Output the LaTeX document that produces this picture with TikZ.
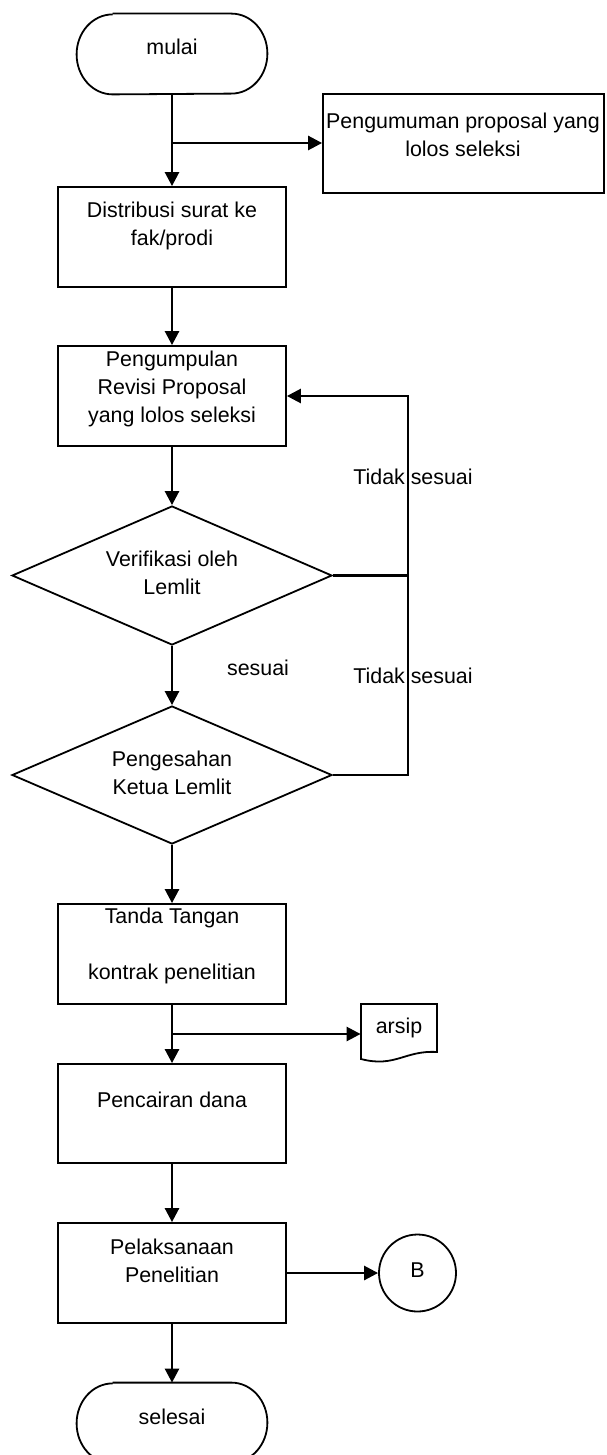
\documentclass[tikz,border=0pt]{standalone}
\usepackage{fontspec}
\setmainfont{Liberation Sans}
\usetikzlibrary{shapes.geometric}
\usetikzlibrary{arrows.meta}

\tikzset{
  terminal/.style={rectangle,inner sep=0pt,minimum width=95pt,minimum height=40pt},
  proses/.style={draw,rectangle,inner sep=0pt,minimum width=114pt,minimum height=50pt,line width=0.9pt},
  keputusan/.style={draw,diamond,inner sep=0pt,minimum width=160pt,minimum height=69.5pt,line width=0.9pt},
  konektor/.style={draw,circle,inner sep=0pt,minimum size=38.5pt,line width=0.9pt},
  teks/.style={align=center,inner sep=0pt},
  alur/.style={->,line width=1.3pt},
  garis/.style={line width=1.3pt}
}
% terminal dengan ujung bulat (elips)
\newcommand{\ujung}[1]{%
  \draw[line width=0.9pt] ([xshift=18pt]#1.north west) -- ([xshift=-18pt]#1.north east)
    arc[start angle=90,end angle=-90,x radius=18pt,y radius=20pt]
    -- ([xshift=18pt]#1.south west)
    arc[start angle=270,end angle=90,x radius=18pt,y radius=20pt];}

\begin{document}
\begin{tikzpicture}[x=0.5pt,y=-0.5pt,>={Triangle[length=7pt,width=7pt]},
  every node/.style={font=\fontsize{10.7pt}{14pt}\selectfont}]
\useasboundingbox (0,0) rectangle (606,1455);

% bentuk
\node[terminal] (mulai) at (172,54) {};
\node[proses,minimum width=140.5pt,minimum height=49.5pt] (umum) at (463.5,143.5) {};
\node[proses] (distribusi) at (172,237) {};
\node[proses] (kumpul) at (172,396) {};
\node[keputusan] (verifikasi) at (172,575.5) {};
\node[keputusan,minimum height=69pt] (sah) at (172,775) {};
\node[proses] (ttd) at (172,954) {};
\node[proses,minimum height=49.5pt] (cair) at (172,1113.5) {};
\node[proses] (laks) at (172,1273) {};
\node[konektor] (B) at (417.5,1273) {\raisebox{3pt}{B}};
\node[terminal] (selesai) at (172,1423) {};
\ujung{mulai}
\ujung{selesai}

% dokumen arsip
\draw[line width=0.9pt] (361,1004) -- (437,1004) -- (437,1052)
      .. controls (405,1050) and (395,1068) .. (361,1059) -- cycle;
\node[teks,minimum width=38pt] (arsip) at (399,1028) {arsip};

% teks
\node[teks] (mulai-t) at (172,47) {mulai};
\node[teks] (umum-t) at (463,135) {Pengumuman proposal yang\\lolos seleksi};
\node[teks] (distribusi-t) at (172,225.5) {Distribusi surat ke\\fak/prodi};
\node[teks] (kumpul-t) at (172,389) {Pengumpulan\\Revisi Proposal\\yang lolos seleksi};
\node[teks] (verifikasi-t) at (172,573) {Verifikasi oleh\\Lemlit};
\node[teks] (sah-t) at (172,773) {Pengesahan\\Ketua Lemlit};
\node[teks] (ttd-t) at (172,945.5) {Tanda Tangan\\[14pt]kontrak penelitian};
\node[teks] (cair-t) at (172,1100) {Pencairan dana};
\node[teks] (laks-t) at (172,1261) {Pelaksanaan\\Penelitian};
\node[teks] (selesai-t) at (172,1417) {selesai};
\node[teks] (sesuai) at (258,668) {sesuai};
\node[teks] (tidak1) at (413,477) {Tidak sesuai};
\node[teks] (tidak2) at (413,676) {Tidak sesuai};

% alur
\coordinate (cabang1) at (172,143);
\coordinate (cabang2) at (172,1034);
\coordinate (balik) at (408,396);
\draw[garis] (mulai) -- (cabang1);
\draw[alur] (cabang1) -- (distribusi);
\draw[alur] (cabang1) -- (cabang1 -| umum.west);
\draw[alur] (distribusi) -- (kumpul);
\draw[alur] (kumpul) -- (verifikasi);
\draw[alur] (verifikasi) -- (sah);
\draw[alur] (sah) -- (ttd);
\draw[garis] (ttd) -- (cabang2);
\draw[alur] (cabang2) -- (cair);
\draw[alur] (cabang2) -- (cabang2 -| arsip.west);
\draw[alur] (cair) -- (laks);
\draw[alur] (laks) -- (selesai);
\draw[alur] (laks) -- (B);
\draw[alur] (sah.east) -| (balik) -- (kumpul.east);
\draw[garis] (verifikasi.east) -- (verifikasi.east -| balik);
\end{tikzpicture}
\end{document}
